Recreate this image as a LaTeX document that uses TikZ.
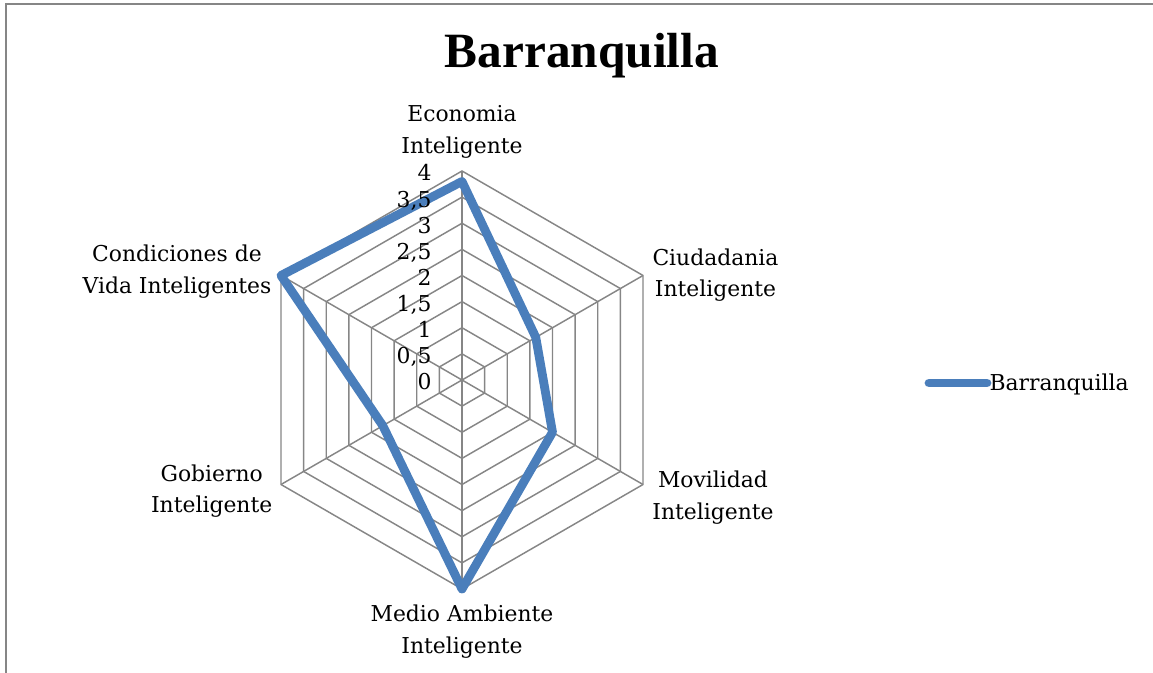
\documentclass[tikz,border=0pt]{standalone}
\usepackage{fontspec}
\setmainfont{DejaVu Serif}
\newfontfamily\titlefont{Liberation Serif}
\definecolor{gridgray}{RGB}{134,134,134}
\definecolor{serieblue}{RGB}{74,126,187}
\tikzset{every picture/.style={line width=0.75pt}}

\begin{document}
\begin{tikzpicture}[x=0.75pt,y=0.75pt,yscale=-1,xscale=1,
	gridline/.style={draw=gridgray, line width=1.1pt},
	serieline/.style={draw=serieblue, line width=6.6pt, line join=round},
	catlabel/.style={anchor=base, inner sep=0pt, align=center, font=\fontsize{16.4}{23.6}\selectfont},
	ticklabel/.style={anchor=base east, inner sep=0pt, font=\fontsize{16.4}{23.6}\selectfont}]
		\useasboundingbox (0,0) rectangle (1153,673);

		%Chart area border
		\draw [gridline] (6,673) -- (6,4) -- (1153,4) ;

		% Title
		\node (title) [anchor=base, inner sep=0pt] at (582,67.7) {\fontsize{37}{40}\selectfont\titlefont\bfseries Barranquilla};

		%Radar grid: rings every 0,5 and the six spokes
		\begin{scope}[shift={(462,380)},yscale=-1]
			\foreach \r in {26.125,52.25,...,209} {
				\draw [gridline] (90:\r) -- (30:\r) -- (-30:\r) -- (-90:\r) -- (-150:\r) -- (150:\r) -- cycle ;
			}
			\foreach \a in {90,30,-30,-90,-150,150} {
				\draw [gridline] (0,0) -- (\a:209) ;
			}
			%Data series Barranquilla
			\draw [serieline] (90:198.55) -- (30:85.2) -- (-30:104.5) -- (-90:209) -- (-150:91.44) -- (150:209) -- cycle ;
		\end{scope}

		%Axis values
		\foreach \k/\t in {0/0,1/{0,5},2/1,3/{1,5},4/2,5/{2,5},6/3,7/{3,5},8/4} {
			\node (tick\k) [ticklabel] at (432,{390-26.125*\k}) {\t};
		}

		% Category labels (anchored on the baseline of the last line)
		\node (econ) [catlabel] at (462,153.3) {Economia\\Inteligente};
		\node (ciud) [catlabel] at (715.5,296.5) {Ciudadania\\Inteligente};
		\node (movi) [catlabel] at (713,519.4) {Movilidad\\Inteligente};
		\node (medio) [catlabel] at (462,653.3) {Medio Ambiente\\Inteligente};
		\node (gobi) [catlabel] at (211.7,512.7) {Gobierno\\Inteligente};
		\node (vida) [catlabel] at (177,293.3) {Condiciones de\\Vida Inteligentes};

		% Legend
		\coordinate (legA) at (929,383);
		\coordinate (legB) at (987,383);
		\draw [serieline, line cap=round] (legA) -- (legB) ;
		\node (legtext) [anchor=base west, inner sep=0pt] at (989,391) {\fontsize{16.4}{23.6}\selectfont Barranquilla};
\end{tikzpicture}
\end{document}
